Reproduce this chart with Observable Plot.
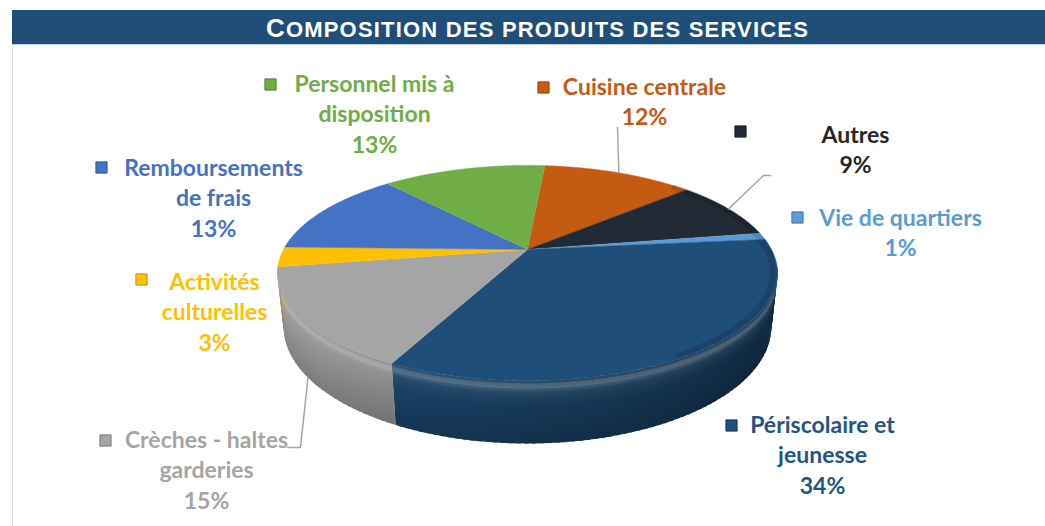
<!DOCTYPE html>
<html><head><meta charset="utf-8">
<script src="https://cdn.jsdelivr.net/npm/d3@7"></script>
<script src="https://cdn.jsdelivr.net/npm/@observablehq/plot@0.6"></script>
<style>
body{margin:0;background:#fff;}
#title{position:absolute;left:12px;top:10px;width:1033px;height:34px;background:#1F4E79;color:#fff;font-family:"Liberation Sans",Arial,sans-serif;font-weight:bold;text-align:center;line-height:36px;white-space:nowrap;letter-spacing:1.2px;}
#title .big{font-size:26px;}
#title .sm{font-size:22px;}
#title .in{display:inline-block;padding-left:18px;}
#frame{position:absolute;left:12px;top:44px;width:1033px;height:482px;border-left:1px solid #d9d9d9;border-top:1px solid #c9d3de;box-sizing:border-box;}
#chart{position:absolute;left:0;top:44px;}
</style></head><body>
<div id="title"><span class="in"><span class="big">C</span><span class="sm">OMPOSITION DES PRODUITS DES SERVICES</span></span></div>
<div id="frame"></div>
<div id="chart"></div>
<script>
// ---- data (clockwise from the top of the pie) ----
const categories = ["Cuisine centrale", "Autres", "Vie de quartiers", "Périscolaire et jeunesse",
  "Crèches - haltes garderies", "Activités culturelles", "Remboursements de frais", "Personnel mis à disposition"];
const shares = [12, 9, 1, 34, 15, 3, 13, 13];
const labelLines = [["Cuisine centrale"], ["Autres"], ["Vie de quartiers"], ["Périscolaire et", "jeunesse"],
  ["Crèches - haltes", "garderies"], ["Activités", "culturelles"], ["Remboursements", "de frais"], ["Personnel mis à", "disposition"]];
const sliceColors = ["#C55A11", "#222A35", "#5B9BD5", "#1F4E79", "#A5A5A5", "#FFC000", "#4472C4", "#70AD47"];
const labelColors = ["#C55A11", "#262626", "#5B9BD5", "#245483", "#A5A5A5", "#FFC000", "#4472C4", "#70AD47"];

// ---- layout (chart pixel space) ----
const W = 1045, H = 482;
const G = {cx: 527, cy: 205, S: 244, rho: 0.2413, sinT: 0.42, depth: 0.243, start: 5};
const labelPos = [[644, 43], [855, 91], [900, 174], [822, 381], [206, 396], [214, 238], [213, 124], [374, 40]];
const markerPos = [[543, 43], [740, 87], [797, 173], [731, 381], [105, 396], [141, 235], [101, 123], [270, 40]];
const leaderBends = {0: {h: 0, pts: [[617, 83]]}, 1: {h: 0, pts: [[763, 131], [770, 131]]}, 4: {h: 1, pts: [[300, 403], [287, 403]]}};
const lineStep = 30.5;
const sideRange = [98, 262];

const cosT = Math.sqrt(1 - G.sinT * G.sinT);
function proj(deg, yh = 0, r = 1) {
  const a = deg * Math.PI / 180;
  const X = r * Math.sin(a), Z = r * Math.cos(a), Y = -yh * G.depth;
  const w = 1 + G.rho * (Z * cosT - Y * G.sinT);
  return [G.cx + G.S * X / w, G.cy - G.S * (Y * cosT + Z * G.sinT) / w];
}

const total = d3.sum(shares);
let acc = 0;
const slices = shares.map((v, i) => {
  const a0 = G.start + 360 * acc / total; acc += v;
  const a1 = G.start + 360 * acc / total;
  return {i, a0, a1, mid: (a0 + a1) / 2};
});

// side faces (front part), smoothly shaded bevel; segments overlap slightly to avoid seams
const sidePts = [];
const vSteps = d3.range(0, 1.0001, 1 / 24);
const bevel = v => 0.24 * Math.exp(-(((v - 0.085) / 0.065) ** 2)) + 0.05 * Math.exp(-(((v - 0.2) / 0.12) ** 2))
  - 0.16 * Math.max(0, Math.min(1, (v - 0.35) / 0.65));
let pid = 0;
for (const s of slices) {
  const lo = Math.max(s.a0, sideRange[0]), hi = Math.min(s.a1, sideRange[1]);
  if (hi <= lo) continue;
  const n = Math.max(1, Math.ceil((hi - lo) / 1.5));
  for (let k = 0; k < n; k++) {
    const p = lo + (hi - lo) * k / n;
    const q = Math.min(hi, lo + (hi - lo) * (k + 1) / n + 0.8);
    const m = (p + q) / 2 * Math.PI / 180;
    const fac = 0.74 - 0.2 * Math.sin(m);
    const base = d3.rgb(sliceColors[s.i]);
    const shade = d3.rgb(base.r * fac, base.g * fac, base.b * fac);
    for (let b = 0; b < vSteps.length - 1; b++) {
      const v0 = vSteps[b], v1 = vSteps[b + 1];
      const mix = bevel((v0 + v1) / 2);
      const col = mix >= 0 ? d3.interpolateRgb(shade, "#ffffff")(mix) : d3.interpolateRgb(shade, "#000000")(-mix);
      const vb = b < vSteps.length - 2 ? v1 + 0.02 : v1;
      const ring = [proj(p, v0), proj(q, v0), proj(q, vb), proj(p, vb)];
      pid++;
      const hex = d3.rgb(col).formatHex();
      for (const [x, y] of ring) sidePts.push({id: pid, x, y, fill: hex});
    }
  }
}

// top faces
const topPts = [];
for (const s of slices) {
  const [ax, ay] = proj(0, 0, 0);
  topPts.push({id: s.i, x: ax, y: ay, fill: sliceColors[s.i]});
  const n = Math.max(2, Math.ceil(s.a1 - s.a0));
  for (let k = 0; k <= n; k++) {
    const [x, y] = proj(s.a0 + (s.a1 - s.a0) * k / n);
    topPts.push({id: s.i, x, y, fill: sliceColors[s.i]});
  }
}

// subtle darker bevel along right rim of the top face
const rimPts = [];
for (let a = 45; a <= 150; a += 2) {
  const [x, y] = proj(a, 0, 0.982);
  rimPts.push({x, y});
}

// leader lines
const leaderPts = [];
for (const [k, spec] of Object.entries(leaderBends)) {
  const s = slices[+k];
  const [x0, y0] = proj(s.mid, spec.h);
  leaderPts.push({id: k, x: x0, y: y0});
  for (const [x, y] of spec.pts) leaderPts.push({id: k, x, y});
}

// label rows
const labelRows = [];
slices.forEach(s => {
  const lines = [...labelLines[s.i], `${shares[s.i]}%`];
  lines.forEach((t, j) => labelRows.push({x: labelPos[s.i][0], y: labelPos[s.i][1] + j * lineStep, text: t, color: labelColors[s.i]}));
});
const markers = slices.map(s => ({x: markerPos[s.i][0], y: markerPos[s.i][1], fill: sliceColors[s.i], edge: d3.rgb(sliceColors[s.i]).darker(0.8).formatHex()}));

const chart = Plot.plot({
  width: W, height: H, margin: 0,
  x: {domain: [0, W], range: [0, W], axis: null},
  y: {domain: [0, H], range: [0, H], axis: null},
  color: {type: "identity"},
  style: {background: "transparent"},
  marks: [
    Plot.line(sidePts, {x: "x", y: "y", z: "id", fill: "fill", stroke: "none", curve: "linear"}),
    Plot.line(topPts, {x: "x", y: "y", z: "id", fill: "fill", stroke: "fill", strokeWidth: 0.5, curve: "linear"}),
    Plot.line(rimPts, {x: "x", y: "y", stroke: "#000", strokeOpacity: 0.13, strokeWidth: 6}),
    Plot.line(leaderPts, {x: "x", y: "y", z: "id", stroke: "#A6A6A6", strokeWidth: 1.5, strokeLinejoin: "miter"}),
    Plot.dot(markers, {x: "x", y: "y", symbol: "square", r: 6.3, fill: "fill", stroke: "edge", strokeWidth: 1}),
    Plot.text(labelRows, {x: "x", y: "y", text: "text", fill: "color", fontSize: 23, fontWeight: "bold", fontFamily: "Lato, 'Open Sans', sans-serif"})
  ]
});
document.getElementById("chart").appendChild(chart);
</script>
</body></html>
